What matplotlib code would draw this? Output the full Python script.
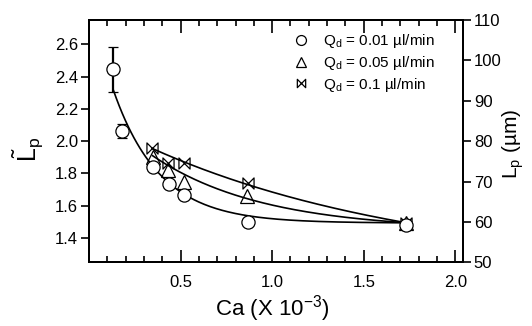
import numpy as np
import matplotlib
matplotlib.use("Agg")
import matplotlib.pyplot as plt
from matplotlib.path import Path
from matplotlib.lines import Line2D

plt.rcParams['font.family'] = ['Liberation Sans', 'DejaVu Sans']
plt.rcParams['mathtext.fontset'] = 'custom'
plt.rcParams['mathtext.rm'] = 'Liberation Sans'
plt.rcParams['mathtext.it'] = 'Liberation Sans'

# Data: Qd = 0.01 ul/min (circles)
ca_001 = [0.129, 0.178, 0.347, 0.437, 0.520, 0.869, 1.728]
lp_001 = [2.444, 2.062, 1.838, 1.736, 1.664, 1.501, 1.478]
err_001 = [0.14, 0.042, 0, 0, 0, 0, 0]
# Qd = 0.05 ul/min (triangles)
ca_005 = [0.347, 0.429, 0.520, 0.864, 1.728]
lp_005 = [1.903, 1.821, 1.748, 1.660, 1.492]
# Qd = 0.1 ul/min (bowties)
ca_01 = [0.345, 0.433, 0.520, 0.869, 1.728]
lp_01 = [1.955, 1.866, 1.866, 1.742, 1.496]

# Fit curves y = a + b*exp(-x/c), drawn from x0 to x1
fit_001 = dict(a=1.493, b=1.392, c=0.253, x0=0.133, x1=1.728)
fit_005 = dict(a=1.449, b=0.822, c=0.6, x0=0.347, x1=1.728)
fit_01 = dict(a=1.192, b=0.960, c=1.5, x0=0.345, x1=1.728)

labels = [r'Q$_\mathrm{d}$ = 0.01 µl/min', r'Q$_\mathrm{d}$ = 0.05 µl/min', r'Q$_\mathrm{d}$ = 0.1 µl/min']

bowtie = Path([(-1, -1), (1, 1), (1, -1), (-1, 1), (-1, -1)],
              [Path.MOVETO, Path.LINETO, Path.LINETO, Path.LINETO, Path.CLOSEPOLY])

fig = plt.figure(figsize=(5.32, 3.26), dpi=100)
ax = fig.add_axes([0.1673, 0.1954, 0.8697 - 0.1673, 0.9387 - 0.1954])

for f in (fit_001, fit_005, fit_01):
    xx = np.linspace(f['x0'], f['x1'], 200)
    ax.plot(xx, f['a'] + f['b'] * np.exp(-xx / f['c']), color='black', lw=1.2, zorder=2)

ax.errorbar(ca_001, lp_001, yerr=err_001, fmt='o', ms=9.5, mfc='white', mec='black',
            mew=0.9, ecolor='black', elinewidth=1.6, capsize=3.5, capthick=1.6, zorder=3)
ax.plot(ca_005, lp_005, '^', ms=9.5, mfc='none', mec='black', mew=0.9, ls='none', zorder=3)
ax.plot(ca_01, lp_01, marker=bowtie, ms=8, mfc='none', mec='black', mew=0.9, ls='none', zorder=3)

ax.set_xlim(0, 2.04)
ax.set_ylim(1.25, 2.75)
ax.set_xticks([0.5, 1.0, 1.5, 2.0])
ax.set_xticks(np.arange(0.1, 2.01, 0.1), minor=True)
ax.set_yticks([1.4, 1.6, 1.8, 2.0, 2.2, 2.4, 2.6])
ax.tick_params(axis='x', which='major', direction='in', length=9, width=1.2, top=True,
               labelsize=12, pad=9)
ax.tick_params(axis='x', which='minor', direction='in', length=4.5, width=1.2, top=True)
ax.tick_params(axis='y', which='major', direction='out', length=6, width=1.2, labelsize=12, pad=2)
for s in ax.spines.values():
    s.set_linewidth(1.4)

ax.set_xlabel(r'Ca (X 10$^{\mathrm{-3}}$)', fontsize=16)
ax.xaxis.set_label_coords(0.49, -0.128)
ax.set_ylabel(r'$\tilde{\mathrm{L}}_\mathrm{p}$', fontsize=18)
ax.yaxis.set_label_coords(-0.118, 0.465)

ax2 = ax.twinx()
ax2.set_ylim(50, 110)
ax2.set_yticks([50, 60, 70, 80, 90, 100, 110])
ax2.tick_params(axis='y', direction='out', length=6, width=1.2, labelsize=12, pad=2)
ax2.set_ylabel(r'L$_\mathrm{p}$ (µm)', fontsize=15)
ax2.yaxis.set_label_coords(1.10, 0.49)
for s in ax2.spines.values():
    s.set_linewidth(1.4)

handles = [
    Line2D([], [], marker='o', ms=9.5, mfc='none', mec='black', mew=0.9, ls='none'),
    Line2D([], [], marker='^', ms=9.5, mfc='none', mec='black', mew=0.9, ls='none'),
    Line2D([], [], marker=bowtie, ms=8, mfc='none', mec='black', mew=0.9, ls='none'),
]
ax.legend(handles, labels, loc='upper left', bbox_to_anchor=(0.542, 0.95),
          frameon=False, fontsize=11, handletextpad=0.85, labelspacing=0.25,
          handlelength=1.2, markerscale=0.75, borderaxespad=0, borderpad=0)

fig.savefig('out.png', dpi=100)
